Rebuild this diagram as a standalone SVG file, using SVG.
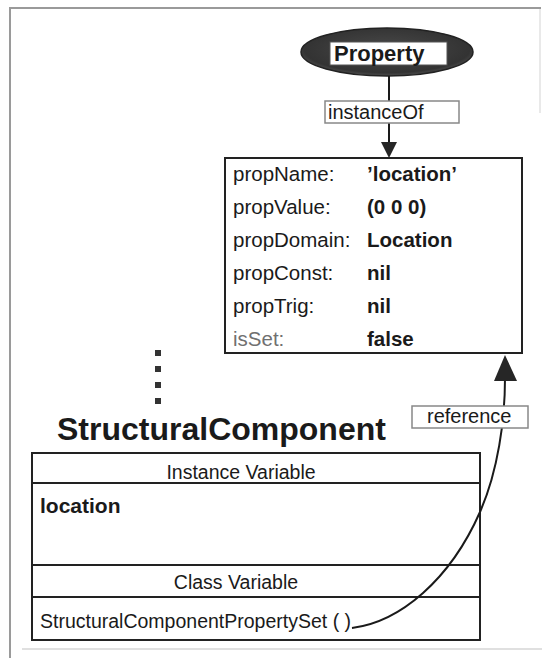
<svg xmlns="http://www.w3.org/2000/svg" width="542" height="658" viewBox="0 0 542 658">
  <defs>
    <radialGradient id="ellipseFill" cx="50%" cy="45%" r="60%">
      <stop offset="0" stop-color="#4a4a4a"/>
      <stop offset="0.8" stop-color="#333"/>
      <stop offset="1" stop-color="#5e5e5e"/>
    </radialGradient>
  </defs>
  <style>
    text { font-family: "Liberation Sans", Arial, sans-serif; fill: #1a1a1a; }
    .frame { stroke: #9a9a9a; stroke-width: 2; fill: none; }
    .box { fill: #fff; stroke: #222; stroke-width: 2; }
    .tag { fill: #fff; stroke: #888; stroke-width: 1.5; }
    .rule { stroke: #222; stroke-width: 2; }
    .lbl { font-size: 20.5px; }
    .val { font-size: 20.5px; font-weight: bold; }
    .tagtxt { font-size: 20px; }
    .slot { font-size: 19.5px; }
    .dot { fill: #333; }
    .conn { fill: none; stroke: #1a1a1a; stroke-width: 2; }
    .head { fill: #262626; }
  </style>

  <rect width="542" height="658" fill="#fff"/>

  <!-- page frame -->
  <g id="frame">
    <path class="frame" d="M10,658 L10,8 L541,8"/>
    <path d="M540,9 L540,113" stroke="#e2e2e2" stroke-width="1.5"/>
    <path d="M22,649 L542,649" stroke="#d6d6d6" stroke-width="1.5"/>
  </g>

  <!-- Property class node -->
  <g id="property">
    <ellipse cx="387" cy="52" rx="86" ry="24" fill="url(#ellipseFill)" stroke="#222" stroke-width="1.5"/>
    <rect x="330" y="42" width="117" height="23" fill="#fff" stroke="#555" stroke-width="1"/>
    <text x="334" y="61" font-size="22px" font-weight="bold">Property</text>
  </g>

  <!-- Property instance -->
  <g id="property-instance">
    <rect class="box" x="225" y="158" width="297" height="195"/>
    <text class="lbl" x="233" y="181">propName:</text>
    <text class="val" x="367" y="181">’location’</text>
    <text class="lbl" x="233" y="214">propValue:</text>
    <text class="val" x="367" y="214">(0 0 0)</text>
    <text class="lbl" x="233" y="247">propDomain:</text>
    <text class="val" x="367" y="247">Location</text>
    <text class="lbl" x="233" y="280">propConst:</text>
    <text class="val" x="367" y="280">nil</text>
    <text class="lbl" x="233" y="313">propTrig:</text>
    <text class="val" x="367" y="313">nil</text>
    <text class="lbl" x="233" y="346" style="fill:#707070">isSet:</text>
    <text class="val" x="367" y="346">false</text>
  </g>

  <!-- elided instances -->
  <g id="ellipsis">
    <rect class="dot" x="155" y="350" width="6" height="6"/>
    <rect class="dot" x="155" y="366" width="6" height="6"/>
    <rect class="dot" x="155" y="382" width="6" height="6"/>
    <rect class="dot" x="155" y="398" width="6" height="6"/>
  </g>

  <!-- StructuralComponent class -->
  <g id="structural-component">
    <text x="57" y="440" font-size="32px" font-weight="bold">StructuralComponent</text>
    <rect class="box" x="32" y="453" width="448" height="187"/>
    <line class="rule" x1="32" y1="483" x2="480" y2="483"/>
    <line class="rule" x1="32" y1="565" x2="480" y2="565"/>
    <line class="rule" x1="32" y1="597" x2="480" y2="597"/>
    <text class="slot" x="241" y="479" text-anchor="middle">Instance Variable</text>
    <text x="40" y="513" font-size="21px" font-weight="bold">location</text>
    <text class="slot" x="236" y="589" text-anchor="middle">Class Variable</text>
    <text class="slot" x="40" y="628">StructuralComponentPropertySet ( )</text>
  </g>

  <!-- connectors -->
  <g id="connectors">
    <path class="conn" d="M389,76 L389,143"/>
    <path class="head" d="M381,142 L397,142 L389,158 Z"/>
    <path class="conn" d="M352,628 C400,622 450,580 480,512 C498,471 505,420 505,378"/>
    <path class="head" d="M505,355 L517,381 L494,381 Z"/>
  </g>

  <!-- connector labels -->
  <g id="label-instanceOf">
    <rect class="tag" x="325" y="101" width="134" height="22"/>
    <text class="tagtxt" x="328" y="119">instanceOf</text>
  </g>
  <g id="label-reference">
    <rect class="tag" x="412" y="406" width="116" height="22"/>
    <text class="tagtxt" x="427" y="423">reference</text>
  </g>
</svg>
